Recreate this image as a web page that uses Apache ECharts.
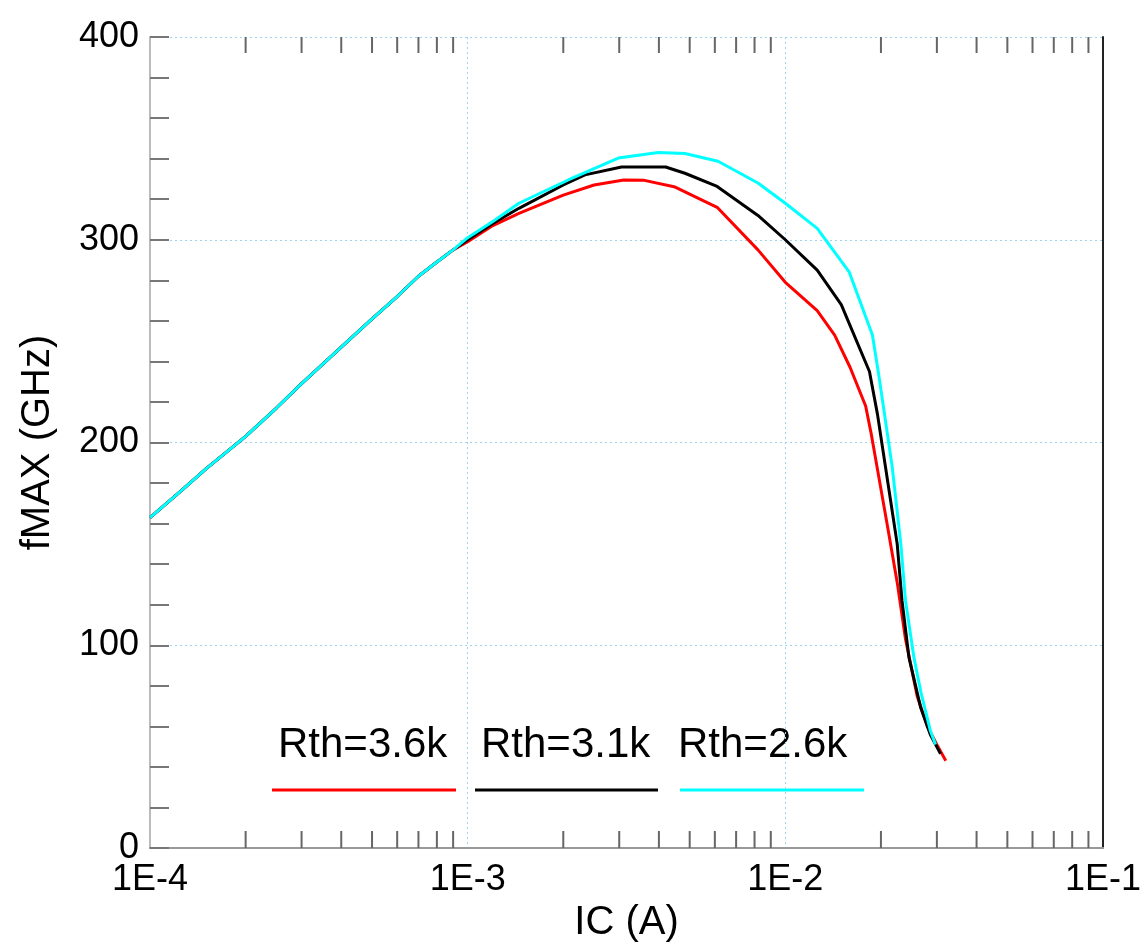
<!DOCTYPE html>
<html>
<head>
<meta charset="utf-8">
<script src="https://cdn.jsdelivr.net/npm/echarts@6/dist/echarts.min.js"></script>
<style>
html,body{margin:0;padding:0;background:#fff;}
#chart{width:1144px;height:949px;}
</style>
</head>
<body>
<div id="chart"></div>
<script>
// ---- data ----
const seriesNames = ['Rth=3.6k', 'Rth=3.1k', 'Rth=2.6k'];
const seriesColors = ['#ff0000', '#000000', '#00ffff'];
const xTickLabels = ['1E-4', '1E-3', '1E-2', '1E-1'];
const minorTickValues = [2e-4,3e-4,4e-4,5e-4,6e-4,7e-4,8e-4,9e-4,
                         2e-3,3e-3,4e-3,5e-3,6e-3,7e-3,8e-3,9e-3,
                         2e-2,3e-2,4e-2,5e-2,6e-2,7e-2,8e-2,9e-2];

const redI = [1e-4,1.25e-4,1.5e-4,2e-4,2.5e-4,3e-4,4e-4,5e-4,6e-4,7e-4,8e-4,9e-4,1e-3,1.2e-3,1.45e-3,2e-3,2.5e-3,3.1e-3,3.6e-3,4.5e-3,6.1e-3,8.2e-3,1e-2,1.26e-2,1.43e-2,1.6e-2,1.79e-2,1.86e-2,2.09e-2,2.25e-2,2.39e-2,2.6e-2,2.8e-2,3.0e-2,3.2e-2];
const redV = [163,176,187,203,217,229,247,261,272,282,289,295,299,307,313,322,327,329.5,329.3,326,316,295,279,265,253,237,218,205,160,131,103,75,60,51,43];

const blackI = [1e-4,1.25e-4,1.5e-4,2e-4,2.5e-4,3e-4,4e-4,5e-4,6e-4,7e-4,8e-4,9e-4,1e-3,1.2e-3,1.45e-3,2e-3,2.34e-3,3.05e-3,4.2e-3,4.83e-3,6.1e-3,8.2e-3,1e-2,1.26e-2,1.5e-2,1.84e-2,1.95e-2,2.12e-2,2.25e-2,2.33e-2,2.45e-2,2.67e-2,2.86e-2,3.08e-2];
const blackV = [163,176,187,203,217,229,247,261,272,282,289,295,300,308,315.5,327,332,335.9,335.9,332.8,326.3,312,300,285,268,235,214,176.6,150,122,94,69,56,46.5];

const cyanI = [1e-4,1.25e-4,1.5e-4,2e-4,2.5e-4,3e-4,4e-4,5e-4,6e-4,7e-4,8e-4,9e-4,1e-3,1.2e-3,1.45e-3,2.08e-3,2.98e-3,3.98e-3,4.83e-3,6.14e-3,8.2e-3,1e-2,1.26e-2,1.59e-2,1.88e-2,1.97e-2,2.17e-2,2.31e-2,2.39e-2,2.54e-2,2.67e-2,2.86e-2,2.97e-2];
const cyanV = [163,176,187,203,217,229,247,261,272,282,289,295,301,309,318,329.6,340.3,343,342.5,338.7,328,318,305.6,284,253,233,188,150,122,94,77,58,51];

const seriesI = [redI, blackI, cyanI];
const seriesV = [redV, blackV, cyanV];

// ---- chart ----
const FONT = '"Liberation Sans", Arial, sans-serif';
const chart = echarts.init(document.getElementById('chart'));
const gridColor = '#9fd3ee';

const lineSeries = seriesNames.map((name, k) => ({
  name: name,
  type: 'line',
  xAxisIndex: 0, yAxisIndex: 0,
  showSymbol: false,
  smooth: false,
  lineStyle: { color: seriesColors[k], width: 3 },
  itemStyle: { color: seriesColors[k] },
  data: seriesI[k].map((x, i) => [x, seriesV[k][i]]),
  z: 5 + k
}));

const tickSeries = {
  type: 'custom',
  xAxisIndex: 0, yAxisIndex: 0,
  silent: true,
  z: 3,
  data: minorTickValues.map(v => [v]),
  renderItem: function (params, api) {
    const v = api.value(0);
    const b = api.coord([v, 0]);
    const t = api.coord([v, 400]);
    return {
      type: 'group',
      children: [
        { type: 'line', shape: { x1: b[0], y1: b[1], x2: b[0], y2: b[1] - 17 },
          style: { stroke: '#666', lineWidth: 2 } },
        { type: 'line', shape: { x1: t[0], y1: t[1], x2: t[0], y2: t[1] + 16 },
          style: { stroke: '#666', lineWidth: 2 } }
      ]
    };
  }
};

const legendX = [278, 481, 678];
const legendLineX = [[272, 456], [475, 658], [680, 864]];
const legendGraphics = [];
seriesNames.forEach((n, k) => {
  legendGraphics.push({
    type: 'text', left: legendX[k], top: 724,
    style: { text: n, font: '42px ' + FONT, fill: '#000' }
  });
  legendGraphics.push({
    type: 'line',
    shape: { x1: legendLineX[k][0], y1: 790, x2: legendLineX[k][1], y2: 790 },
    style: { stroke: seriesColors[k], lineWidth: 3 }
  });
});

chart.setOption({
  animation: false,
  backgroundColor: '#fff',
  grid: { left: 150, top: 37, right: 38, bottom: 101, containLabel: false },
  xAxis: [{
    type: 'log', logBase: 10, min: 1e-4, max: 1e-1,
    position: 'bottom',
    name: 'IC (A)', nameLocation: 'middle', nameGap: 52,
    nameTextStyle: { fontFamily: FONT, fontSize: 40, color: '#000' },
    axisLine: { show: true, lineStyle: { color: '#999', width: 2 } },
    axisTick: { show: false },
    axisLabel: {
      fontFamily: FONT, fontSize: 36, color: '#000', margin: 14,
      formatter: v => xTickLabels[Math.round(Math.log10(v)) + 4]
    },
    splitLine: { show: true, lineStyle: { color: gridColor, type: [2, 3], width: 1 } }
  }, {
    type: 'log', logBase: 10, min: 1e-4, max: 1e-1,
    position: 'top',
    axisLine: { show: true, lineStyle: { color: '#999', width: 2 } },
    axisTick: { show: false }, axisLabel: { show: false }, splitLine: { show: false }
  }],
  yAxis: [{
    type: 'value', min: 0, max: 400, interval: 100,
    position: 'left',
    name: 'fMAX (GHz)', nameLocation: 'middle', nameGap: 92, nameRotate: 90,
    nameTextStyle: { fontFamily: FONT, fontSize: 40, color: '#000' },
    axisLine: { show: true, lineStyle: { color: '#bbb', width: 2 } },
    axisTick: { show: true, inside: true, length: 19, lineStyle: { color: '#777', width: 2 } },
    minorTick: { show: true, splitNumber: 5, length: 19, lineStyle: { color: '#777', width: 2 } },
    axisLabel: { fontFamily: FONT, fontSize: 36, color: '#000', margin: 11 },
    splitLine: { show: true, lineStyle: { color: gridColor, type: [2, 3], width: 1 } }
  }, {
    type: 'value', min: 0, max: 400, interval: 100,
    position: 'right',
    axisLine: { show: true, lineStyle: { color: '#222', width: 2 } },
    axisTick: { show: false }, axisLabel: { show: false }, splitLine: { show: false }
  }],
  series: lineSeries.concat([tickSeries]),
  graphic: legendGraphics
});
</script>
</body>
</html>
